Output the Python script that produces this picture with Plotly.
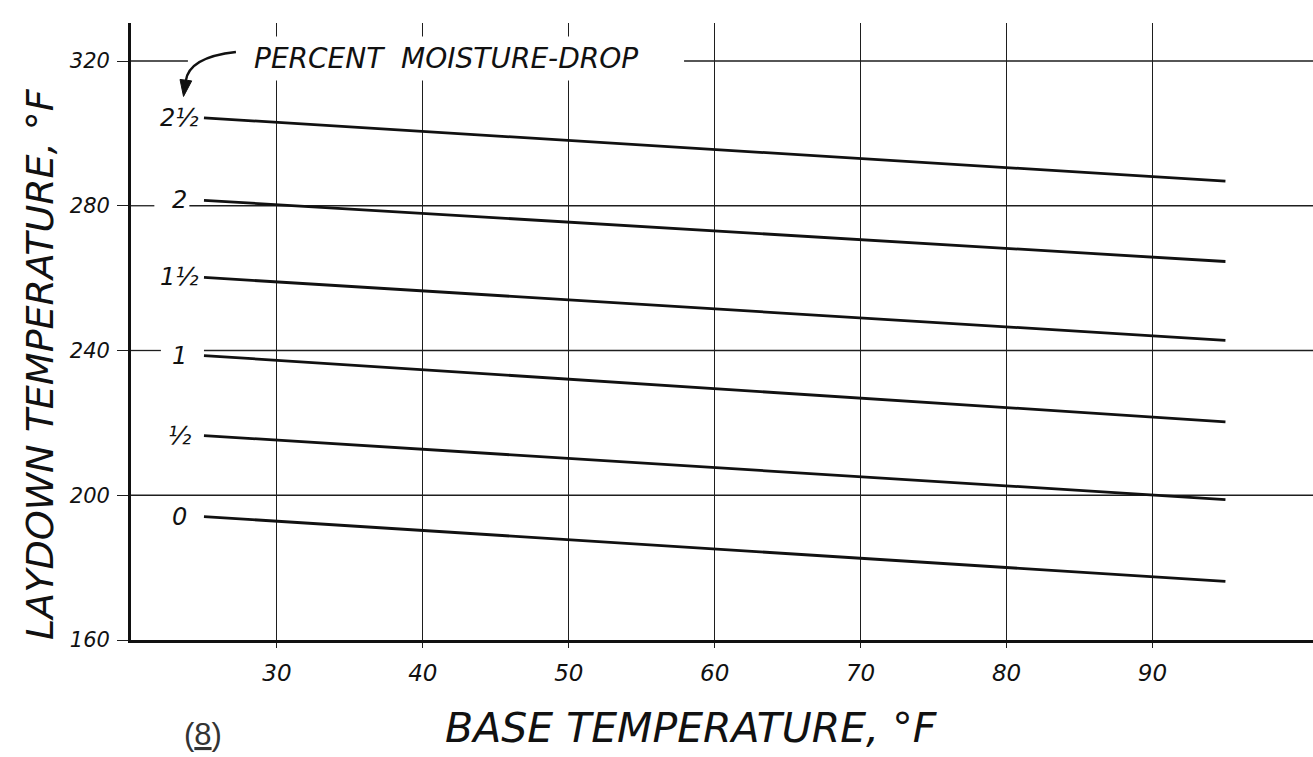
import plotly.graph_objects as go

# ---- data -------------------------------------------------------------
base_temp = [25, 95]                      # base temperature, °F

drop_0 = [194.1, 176.2]                   # laydown temperature, °F
drop_half = [216.5, 198.8]
drop_1 = [238.6, 220.3]
drop_1_half = [260.2, 242.8]
drop_2 = [281.5, 264.6]
drop_2_half = [304.3, 286.8]

curve_labels = ["0", "½", "1", "1½", "2", "2½"]
curves = [drop_0, drop_half, drop_1, drop_1_half, drop_2, drop_2_half]

x_ticks = [30, 40, 50, 60, 70, 80, 90]
y_ticks = [160, 200, 240, 280, 320]

# ---- styling constants ------------------------------------------------
W, H = 1313, 757
M_L, M_R, M_T, M_B = 131, 0, 23, 117
X_RANGE = [20, 101]
Y_RANGE = [160, 330.5]
INK = "#111111"
GRID = "#1e1e1e"
FONT = "DejaVu Sans"
LABEL_X = 23.3

# breaks left in the horizontal rules for the hand lettering
rule_breaks = {320: (23.9, 57.9), 280: (21.6, 24.0), 240: (22.05, 25.0)}

fig = go.Figure()

# horizontal rules across the chart (drawn from the y tick values)
gx, gy = [], []
for yv in y_ticks[1:]:
    if yv in rule_breaks:
        a, b = rule_breaks[yv]
        pieces = [(X_RANGE[0], a), (b, X_RANGE[1])]
    else:
        pieces = [(X_RANGE[0], X_RANGE[1])]
    for x0, x1 in pieces:
        gx += [x0, x1, None]
        gy += [yv, yv, None]
fig.add_trace(go.Scatter(x=gx, y=gy, mode="lines",
                         line=dict(color=GRID, width=1.3),
                         hoverinfo="skip", showlegend=False))

# moisture-drop curves
for lab, vals in zip(curve_labels, curves):
    fig.add_trace(go.Scatter(x=base_temp, y=vals, mode="lines",
                             line=dict(color=INK, width=2.8),
                             name=lab, showlegend=False))

annotations = []
for lab, vals in zip(curve_labels, curves):
    annotations.append(dict(x=LABEL_X, y=vals[0], xref="x", yref="y",
                            text=lab, showarrow=False, xanchor="center",
                            yanchor="middle",
                            font=dict(family=FONT, size=24, color=INK,
                                      style="italic")))

annotations.append(dict(x=41.6, y=320.6, xref="x", yref="y",
                        text="PERCENT  MOISTURE-DROP", showarrow=False,
                        xanchor="center", yanchor="middle",
                        bgcolor="white", borderpad=5,
                        font=dict(family=FONT, size=28, color=INK,
                                  style="italic")))

plot_w = W - M_L - M_R
plot_h = H - M_T - M_B

annotations.append(dict(x=(691 - M_L) / plot_w, y=0, xref="paper",
                        yref="paper", yshift=-88,
                        text="BASE TEMPERATURE, °F", showarrow=False,
                        xanchor="center", yanchor="middle",
                        font=dict(family=FONT, size=41, color=INK,
                                  style="italic")))
annotations.append(dict(x=(40 - M_L) / plot_w, y=1 - (364 - M_T) / plot_h,
                        xref="paper", yref="paper", textangle=-90,
                        text="LAYDOWN TEMPERATURE, °F", showarrow=False,
                        xanchor="center", yanchor="middle",
                        font=dict(family=FONT, size=38, color=INK,
                                  style="italic")))
annotations.append(dict(x=(203 - M_L) / plot_w, y=0, xref="paper",
                        yref="paper", yshift=-94,
                        text="(<u>8</u>)", showarrow=False,
                        xanchor="center", yanchor="middle",
                        font=dict(family="Liberation Sans", size=31,
                                  color="#333333")))

# curved pointer from the note down to the top curve label
shapes = [
    dict(type="path", xref="x", yref="y",
         path="M 27.19,322.5 Q 23.97,321.1 23.75,314.45",
         line=dict(color=INK, width=2.4)),
    dict(type="path", xref="x", yref="y",
         path="M 23.60,310.2 L 24.16,314.5 L 23.36,314.9 Z",
         fillcolor=INK, line=dict(color=INK, width=1)),
]

fig.update_layout(
    width=W, height=H, autosize=False,
    margin=dict(l=M_L, r=M_R, t=M_T, b=M_B, pad=0),
    paper_bgcolor="white", plot_bgcolor="white",
    annotations=annotations, shapes=shapes,
    xaxis=dict(range=X_RANGE, tickvals=x_ticks,
               showgrid=True, gridcolor=GRID, gridwidth=1.2,
               zeroline=False, showline=True, linecolor=INK, linewidth=2.8,
               ticks="outside", ticklen=5, tickcolor=GRID, tickwidth=1.2,
               ticklabelstandoff=5,
               tickfont=dict(family=FONT, size=23, color=INK,
                             style="italic")),
    yaxis=dict(range=Y_RANGE, tickvals=y_ticks,
               showgrid=False, zeroline=False,
               showline=True, linecolor=INK, linewidth=2.8,
               ticks="outside", ticklen=11, tickcolor=GRID, tickwidth=1.3,
               ticklabelstandoff=3,
               tickfont=dict(family=FONT, size=21, color=INK,
                             style="italic")),
)

fig.write_html("out.html")
